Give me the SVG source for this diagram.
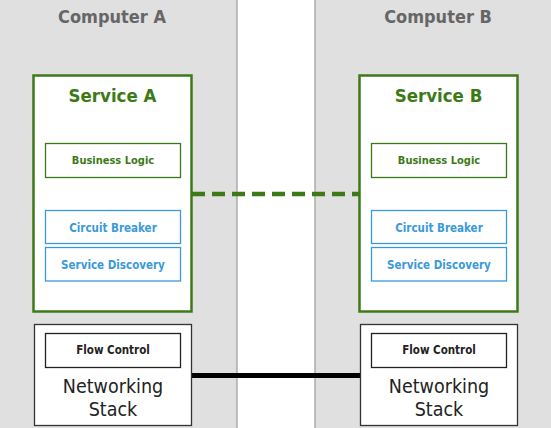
<svg xmlns="http://www.w3.org/2000/svg" width="551" height="428" viewBox="0 0 551 428">
<style>
text{font-family:"DejaVu Sans Condensed","DejaVu Sans","Liberation Sans",sans-serif;text-anchor:middle}
.bg{fill:#e0e0e0}
.sep{stroke:#9a9a9a;stroke-width:1.2}
.comp{font-size:18px;font-weight:bold;fill:#666}
.svc{fill:#fff;stroke:#3b7a17;stroke-width:2.5}
.svct{font-size:18.5px;font-weight:bold;fill:#3b7a17}
.bl{fill:#fff;stroke:#3b7a17;stroke-width:1.3}
.blt{font-size:11px;font-weight:bold;fill:#3b7a17}
.cb{fill:#fff;stroke:#3a9ad9;stroke-width:1.3}
.cbt{font-size:11.5px;font-weight:bold;fill:#3a9ad9}
.ns{fill:#fff;stroke:#333;stroke-width:1.3}
.fc{fill:#fff;stroke:#222;stroke-width:1.3}
.fct{font-size:11.5px;font-weight:bold;fill:#222}
.nst{font-size:19.5px;fill:#222}
</style>
<rect class="bg" x="0" y="0" width="237" height="428"/>
<rect x="237" y="0" width="78" height="428" fill="#fff"/>
<rect class="bg" x="315" y="0" width="236" height="428"/>
<line class="sep" x1="237" y1="0" x2="237" y2="428"/>
<line class="sep" x1="315" y1="0" x2="315" y2="428"/>
<text class="comp" x="112" y="23">Computer A</text>
<text class="comp" x="438" y="23">Computer B</text>
<g id="connectors">
<line x1="192" y1="194" x2="359" y2="194" stroke="#3b7a17" stroke-width="4.5" stroke-dasharray="13,7"/>
<line x1="192" y1="375.5" x2="360" y2="375.5" stroke="#000" stroke-width="5"/>
</g>
<g id="serviceA">
<rect class="svc" x="33.5" y="75.5" width="158" height="236"/>
<text class="svct" x="112.5" y="102">Service A</text>
</g>
<g id="businessLogicA">
<rect class="bl" x="45.5" y="143.5" width="135" height="34"/>
<text class="blt" x="113" y="164">Business Logic</text>
</g>
<g id="circuitBreakerA">
<rect class="cb" x="45.5" y="210.5" width="135" height="33"/>
<text class="cbt" x="113" y="231.5">Circuit Breaker</text>
</g>
<g id="serviceDiscoveryA">
<rect class="cb" x="45.5" y="247.5" width="135" height="33.5"/>
<text class="cbt" x="113" y="269">Service Discovery</text>
</g>
<g id="serviceB">
<rect class="svc" x="359.5" y="75.5" width="158" height="236"/>
<text class="svct" x="438.5" y="102">Service B</text>
</g>
<g id="businessLogicB">
<rect class="bl" x="371.5" y="143.5" width="135" height="34"/>
<text class="blt" x="439" y="164">Business Logic</text>
</g>
<g id="circuitBreakerB">
<rect class="cb" x="371.5" y="210.5" width="135" height="33"/>
<text class="cbt" x="439" y="231.5">Circuit Breaker</text>
</g>
<g id="serviceDiscoveryB">
<rect class="cb" x="371.5" y="247.5" width="135" height="33.5"/>
<text class="cbt" x="439" y="269">Service Discovery</text>
</g>
<g id="networkingStackA">
<rect class="ns" x="34.5" y="324.5" width="157" height="101"/>
<text class="nst" x="113" y="393">Networking</text>
<text class="nst" x="113" y="416">Stack</text>
</g>
<g id="flowControlA">
<rect class="fc" x="45.5" y="333.5" width="135" height="34"/>
<text class="fct" x="113" y="354">Flow Control</text>
</g>
<g id="networkingStackB">
<rect class="ns" x="360.5" y="324.5" width="157" height="101"/>
<text class="nst" x="439" y="393">Networking</text>
<text class="nst" x="439" y="416">Stack</text>
</g>
<g id="flowControlB">
<rect class="fc" x="371.5" y="333.5" width="135" height="34"/>
<text class="fct" x="439" y="354">Flow Control</text>
</g>
</svg>
